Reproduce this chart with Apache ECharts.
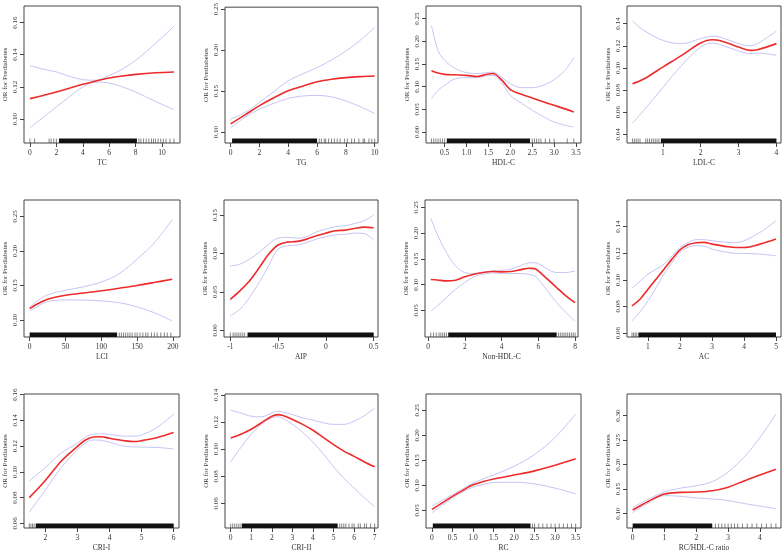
<!DOCTYPE html>
<html><head><meta charset="utf-8">
<script src="https://cdn.jsdelivr.net/npm/echarts@6/dist/echarts.min.js"></script>
<style>html,body{margin:0;padding:0;background:#fff}#c{width:784px;height:553px}</style>
</head><body><div id="c"></div>
<script>
// ---------- DATA ----------
const titles = ['TC','TG','HDL-C','LDL-C','LCI','AIP','Non-HDL-C','AC','CRI-I','CRI-II','RC','RC/HDL-C ratio'];
const yTitle = 'OR for Prediabetes';

// TC
const tcX = [0,1,2,3,4,5,6,7,8,9.5,10.9];
const tcFit = [0.1127,0.1147,0.1168,0.1192,0.1216,0.1237,0.1255,0.1268,0.1278,0.1288,0.1293];
const tcUp = [0.1332,0.1310,0.1293,0.1265,0.1245,0.1241,0.1272,0.1310,0.1365,0.1470,0.1577];
const tcLo = [0.0946,0.1010,0.1075,0.1140,0.1199,0.1230,0.1224,0.1200,0.1168,0.1110,0.1058];
const tcXRange = [-0.45, 11.36], tcYRange = [0.0851, 0.1703];
const tcXTicks = ['0','2','4','6','8','10'], tcYTicks = ['0.10','0.12','0.14','0.16'];
const tcRugBlocks = [[2.2, 8.1]];
const tcRugTicks = [0,0.35,1.45,1.6,1.8,2.0,8.25,8.4,8.6,8.8,9.0,9.2,9.35,9.5,9.7,9.9,10.1,10.3,10.6,10.9];

// TG
const tgX = [0,1,2,3,4,5,6,7,8,9,10];
const tgFit = [0.110,0.121,0.1323,0.142,0.1504,0.156,0.1613,0.1645,0.1665,0.1677,0.1685];
const tgUp = [0.116,0.124,0.1363,0.1495,0.1625,0.171,0.1786,0.188,0.1988,0.212,0.2278];
const tgLo = [0.1052,0.118,0.128,0.135,0.1411,0.144,0.1448,0.143,0.138,0.131,0.1226];
const tgXRange = [-0.39, 10.23], tgYRange = [0.0867, 0.2524];
const tgXTicks = ['0','2','4','6','8','10'], tgYTicks = ['0.10','0.15','0.20','0.25'];
const tgRugBlocks = [[0.1, 6.0]];
const tgRugTicks = [6.15,6.3,6.5,6.6,6.8,7.0,7.2,7.4,7.6,7.9,8.1,8.4,8.6,8.9,9.2,9.3,9.6,9.8,10.0];

// HDL-C
const hdlX = [0.2,0.35,0.5,0.75,1.0,1.25,1.45,1.6,1.8,2.0,2.25,2.5,2.75,3.0,3.25,3.45];
const hdlFit = [0.1353,0.130,0.1272,0.1262,0.125,0.1225,0.127,0.129,0.115,0.0934,0.083,0.075,0.0665,0.0588,0.051,0.044];
const hdlUp = [0.235,0.18,0.158,0.1397,0.131,0.129,0.131,0.132,0.121,0.1066,0.0978,0.0978,0.103,0.1154,0.136,0.164];
const hdlLo = [0.0735,0.092,0.103,0.1176,0.12,0.12,0.124,0.125,0.109,0.081,0.064,0.048,0.034,0.022,0.015,0.011];
const hdlXRange = [0.075, 3.614], hdlYRange = [-0.0243, 0.278];
const hdlXTicks = ['0.5','1.0','1.5','2.0','2.5','3.0','3.5'], hdlYTicks = ['0.00','0.05','0.10','0.15','0.20','0.25'];
const hdlRugBlocks = [[0.55, 2.45]];
const hdlRugTicks = [0.2,0.25,0.3,0.35,0.4,0.45,0.5,2.5,2.55,2.6,2.65,2.7,2.8,2.9,3.0,3.3,3.45];

// LDL-C
const ldlX = [0.2,0.5,1,1.5,2,2.3,2.5,3,3.3,3.5,4];
const ldlFit = [0.0858,0.09,0.1008,0.1114,0.1225,0.1255,0.1249,0.1189,0.1159,0.1165,0.122];
const ldlUp = [0.1424,0.134,0.125,0.122,0.1265,0.1286,0.128,0.122,0.120,0.122,0.1334];
const ldlLo = [0.0502,0.0617,0.0822,0.1024,0.119,0.1225,0.1213,0.1153,0.113,0.1135,0.1114];
const ldlXRange = [0.056, 4.12], ldlYRange = [0.0322, 0.156];
const ldlXTicks = ['1','2','3','4'], ldlYTicks = ['0.04','0.06','0.08','0.10','0.12','0.14'];
const ldlRugBlocks = [[0.95, 4.0]];
const ldlRugTicks = [0.2,0.25,0.3,0.35,0.4,0.55,0.6,0.65,0.7,0.75,0.8,0.85,0.9];

// LCI
const lciX = [0,10,25,50,75,100,125,150,175,199];
const lciFit = [0.1164,0.1227,0.13,0.1358,0.139,0.1422,0.146,0.150,0.1545,0.159];
const lciUp = [0.1189,0.127,0.1363,0.143,0.148,0.155,0.167,0.188,0.213,0.245];
const lciLo = [0.113,0.119,0.1266,0.129,0.1288,0.1276,0.125,0.1189,0.110,0.0985];
const lciXRange = [-7.9, 209.8], lciYRange = [0.0753, 0.2737];
const lciXTicks = ['0','50','100','150','200'], lciYTicks = ['0.10','0.15','0.20','0.25'];
const lciRugBlocks = [[0, 122]];
const lciRugTicks = [125,128,131,134,137,140,143,147,150,154,158,162,165,170,174,178,183,188,192,197];

// AIP
const aipX = [-1,-0.9,-0.8,-0.7,-0.6,-0.5,-0.4,-0.3,-0.2,-0.1,0,0.1,0.2,0.3,0.4,0.5];
const aipFit = [0.0404,0.0513,0.0643,0.081,0.099,0.111,0.1148,0.1157,0.1187,0.123,0.1265,0.1296,0.1304,0.1326,0.1343,0.1335];
const aipUp = [0.0839,0.086,0.0926,0.1013,0.112,0.12,0.1209,0.12,0.1217,0.128,0.1317,0.135,0.136,0.139,0.1426,0.150];
const aipLo = [0.0187,0.0274,0.0426,0.062,0.0839,0.1057,0.11,0.1109,0.1143,0.1187,0.1217,0.1243,0.125,0.1265,0.126,0.1174];
const aipXRange = [-1.066, 0.545], aipYRange = [-0.0087, 0.1696];
const aipXTicks = ['-1','-0.5','0','0.5'], aipYTicks = ['0.00','0.05','0.10','0.15'];
const aipRugBlocks = [[-0.82, 0.5]];
const aipRugTicks = [-1,-0.97,-0.95,-0.93,-0.91,-0.89,-0.87,-0.85];

// Non-HDL-C
const nonX = [0.15,0.5,1,1.5,2,2.5,3,3.5,4,4.5,5,5.5,5.8,6,6.5,7,7.5,8];
const nonFit = [0.1097,0.109,0.1071,0.1084,0.115,0.120,0.1234,0.1253,0.1247,0.1253,0.1286,0.1318,0.131,0.1266,0.1104,0.0942,0.078,0.065];
const nonUp = [0.2286,0.198,0.1623,0.1364,0.1234,0.1214,0.1234,0.1266,0.1279,0.130,0.1364,0.1422,0.1425,0.141,0.130,0.1234,0.1234,0.1266];
const nonLo = [0.0487,0.0584,0.0747,0.091,0.1039,0.115,0.120,0.1227,0.1214,0.1214,0.1214,0.120,0.117,0.1104,0.0877,0.065,0.0455,0.0292];
const nonXRange = [-0.164, 8.16], nonYRange = [-0.0019, 0.2643];
const nonXTicks = ['0','2','4','6','8'], nonYTicks = ['0.05','0.10','0.15','0.20','0.25'];
const nonRugBlocks = [[1.1, 7.0]];
const nonRugTicks = [0.15,0.3,0.45,0.6,0.7,0.8,0.9,1.0,7.1,7.2,7.3,7.4,7.5,7.6,7.7,7.8,7.9,8.0];

// AC
const acX = [0.5,0.75,1,1.25,1.5,1.75,2,2.25,2.5,2.75,3,3.5,3.75,4,4.5,5];
const acFit = [0.0804,0.0854,0.093,0.1005,0.108,0.1156,0.1226,0.1264,0.1279,0.1282,0.1269,0.1249,0.1244,0.1244,0.1269,0.1307];
const acUp = [0.0937,0.099,0.1043,0.108,0.1118,0.118,0.1244,0.128,0.1302,0.1303,0.1294,0.1282,0.128,0.1294,0.1357,0.1445];
const acLo = [0.0691,0.076,0.0842,0.094,0.1043,0.113,0.1206,0.1245,0.1257,0.1255,0.1231,0.1206,0.120,0.1199,0.1194,0.1181];
const acXRange = [0.344, 5.156], acYRange = [0.057, 0.1601];
const acXTicks = ['1','2','3','4','5'], acYTicks = ['0.06','0.08','0.10','0.12','0.14'];
const acRugBlocks = [[0.7, 5.0]];
const acRugTicks = [0.5,0.55,0.6,0.65];

// CRI-I
const cri1X = [1.5,2,2.5,3,3.25,3.5,3.75,4,4.5,4.75,5,5.5,6];
const cri1Fit = [0.0801,0.0934,0.1085,0.1198,0.1248,0.1271,0.1273,0.1261,0.1241,0.1236,0.1243,0.1268,0.1306];
const cri1Up = [0.0929,0.1035,0.1148,0.1223,0.127,0.1293,0.1296,0.1291,0.1278,0.1278,0.1286,0.1349,0.1449];
const cri1Lo = [0.0688,0.0859,0.1035,0.1173,0.1225,0.1248,0.1245,0.1231,0.1198,0.1195,0.1193,0.119,0.1178];
const cri1XRange = [1.335, 6.166], cri1YRange = [0.0565, 0.1605];
const cri1XTicks = ['2','3','4','5','6'], cri1YTicks = ['0.06','0.08','0.10','0.12','0.14','0.16'];
const cri1RugBlocks = [[1.7, 6.0]];
const cri1RugTicks = [1.5,1.55,1.6,1.65];

// CRI-II
const cri2X = [0,0.5,1,1.5,2,2.3,2.5,3,3.5,4,4.5,5,5.5,6,6.5,7];
const cri2Fit = [0.1082,0.1111,0.1147,0.1195,0.1243,0.1255,0.1251,0.1219,0.1183,0.114,0.1087,0.1034,0.0986,0.0947,0.0906,0.087];
const cri2Up = [0.1287,0.1267,0.1243,0.1239,0.1267,0.128,0.1275,0.1255,0.1231,0.1214,0.1195,0.1183,0.1183,0.1207,0.1248,0.1304];
const cri2Lo = [0.0906,0.1014,0.1111,0.1183,0.1231,0.1239,0.1231,0.1183,0.1123,0.1051,0.0966,0.087,0.0786,0.0713,0.0641,0.0576];
const cri2XRange = [-0.275, 7.16], cri2YRange = [0.0419, 0.1407];
const cri2XTicks = ['0','1','2','3','4','5','6','7'], cri2YTicks = ['0.06','0.08','0.10','0.12','0.14'];
const cri2RugBlocks = [[0.55, 5.2]];
const cri2RugTicks = [0,0.1,0.2,0.3,0.4,0.5,5.3,5.4,5.5,5.6,5.75,5.9,6.0,6.2,6.3,6.5,6.6,6.8,7.0];

// RC
const rcX = [0,0.25,0.5,0.75,1,1.25,1.5,2,2.5,3,3.5];
const rcFit = [0.052,0.065,0.078,0.09,0.101,0.1075,0.1127,0.1206,0.129,0.140,0.153];
const rcUp = [0.0585,0.070,0.0814,0.093,0.1042,0.113,0.1206,0.1382,0.1618,0.1958,0.2428];
const rcLo = [0.0454,0.060,0.0748,0.087,0.0964,0.102,0.1056,0.1062,0.1029,0.0944,0.0833];
const rcXRange = [-0.146, 3.63], rcYRange = [0.0147, 0.2827];
const rcXTicks = ['0','0.5','1.0','1.5','2.0','2.5','3.0','3.5'], rcYTicks = ['0.05','0.10','0.15','0.20','0.25'];
const rcRugBlocks = [[0.02, 2.4]];
const rcRugTicks = [2.45,2.5,2.6,2.7,2.8,2.9,3.0,3.1,3.2,3.3,3.4,3.5];

// RC/HDL-C ratio
const ratX = [0,0.5,1,1.5,2,2.5,3,3.5,4,4.5];
const ratFit = [0.1073,0.1253,0.14,0.1433,0.144,0.1467,0.154,0.1667,0.1787,0.1907];
const ratUp = [0.112,0.13,0.144,0.152,0.1567,0.1653,0.1853,0.2153,0.2553,0.3033];
const ratLo = [0.102,0.122,0.1367,0.1353,0.132,0.13,0.1267,0.1207,0.1153,0.11];
const ratXRange = [-0.178, 4.66], ratYRange = [0.0707, 0.344];
const ratXTicks = ['0','1','2','3','4'], ratYTicks = ['0.10','0.15','0.20','0.25','0.30'];
const ratRugBlocks = [[0, 2.5]];
const ratRugTicks = [2.6,2.7,2.8,2.9,3.0,3.1,3.2,3.3,3.45,3.6,3.75,3.9,4.05,4.2,4.35,4.5];

// ---------- ASSEMBLY ----------
const panels = [
  [tcX,tcFit,tcUp,tcLo,tcXRange,tcYRange,tcXTicks,tcYTicks,tcRugBlocks,tcRugTicks],
  [tgX,tgFit,tgUp,tgLo,tgXRange,tgYRange,tgXTicks,tgYTicks,tgRugBlocks,tgRugTicks],
  [hdlX,hdlFit,hdlUp,hdlLo,hdlXRange,hdlYRange,hdlXTicks,hdlYTicks,hdlRugBlocks,hdlRugTicks],
  [ldlX,ldlFit,ldlUp,ldlLo,ldlXRange,ldlYRange,ldlXTicks,ldlYTicks,ldlRugBlocks,ldlRugTicks],
  [lciX,lciFit,lciUp,lciLo,lciXRange,lciYRange,lciXTicks,lciYTicks,lciRugBlocks,lciRugTicks],
  [aipX,aipFit,aipUp,aipLo,aipXRange,aipYRange,aipXTicks,aipYTicks,aipRugBlocks,aipRugTicks],
  [nonX,nonFit,nonUp,nonLo,nonXRange,nonYRange,nonXTicks,nonYTicks,nonRugBlocks,nonRugTicks],
  [acX,acFit,acUp,acLo,acXRange,acYRange,acXTicks,acYTicks,acRugBlocks,acRugTicks],
  [cri1X,cri1Fit,cri1Up,cri1Lo,cri1XRange,cri1YRange,cri1XTicks,cri1YTicks,cri1RugBlocks,cri1RugTicks],
  [cri2X,cri2Fit,cri2Up,cri2Lo,cri2XRange,cri2YRange,cri2XTicks,cri2YTicks,cri2RugBlocks,cri2RugTicks],
  [rcX,rcFit,rcUp,rcLo,rcXRange,rcYRange,rcXTicks,rcYTicks,rcRugBlocks,rcRugTicks],
  [ratX,ratFit,ratUp,ratLo,ratXRange,ratYRange,ratXTicks,ratYTicks,ratRugBlocks,ratRugTicks]
];

// layout (pixels)
const boxes = [
  [24,6,156,137],[225,6,153,137],[426,6,155,137],[627,6,154,137],
  [24,200,156,137],[224,200,154,137],[425,200,153,137],[627,200,154,137],
  [24,394,155,137],[225,394,153,137],[426,394,155,137],[627,394,154,137]
];

const FONT = 'Liberation Serif';
const TXT = '#333';
const grids = [], xAxes = [], yAxes = [], series = [];

function fmt(labels){
  return function(v){
    for (const s of labels) if (Math.abs(Number(s) - v) < 1e-9) return s;
    return '';
  };
}

panels.forEach((p, i) => {
  const [xs, fit, up, lo, xr, yr, xt, yt, rugB, rugT] = p;
  const b = boxes[i];
  grids.push({left:b[0], top:b[1], width:b[2], height:b[3], show:true, borderColor:'#444', borderWidth:1, backgroundColor:'transparent'});
  xAxes.push({
    type:'value', gridIndex:i, min:xr[0], max:xr[1], splitLine:{show:false}, position:'bottom',
    axisLine:{show:false, onZero:false},
    axisTick:{show:true, length:4, lineStyle:{color:'#444'}, customValues:xt.map(Number)},
    axisLabel:{customValues:xt.map(Number), formatter:fmt(xt), fontFamily:FONT, fontSize:7.5, color:TXT, margin:6},
    name:titles[i], nameLocation:'middle', nameGap:16,
    nameTextStyle:{fontFamily:FONT, fontSize:7.5, color:TXT}
  });
  yAxes.push({
    type:'value', gridIndex:i, min:yr[0], max:yr[1], splitLine:{show:false}, position:'left',
    axisLine:{show:false, onZero:false},
    axisTick:{show:true, length:4, lineStyle:{color:'#444'}, customValues:yt.map(Number)},
    axisLabel:{customValues:yt.map(Number), formatter:fmt(yt), fontFamily:FONT, fontSize:7, color:TXT, rotate:90, margin:5},
    name:yTitle, nameLocation:'middle', nameGap:15,
    nameTextStyle:{fontFamily:FONT, fontSize:7, color:TXT}
  });
  const mk = (arr) => xs.map((x, k) => [x, arr[k]]);
  const base = {type:'line', xAxisIndex:i, yAxisIndex:i, showSymbol:false, symbol:'none', smooth:0.35, silent:true, z:3};
  series.push(Object.assign({}, base, {data:mk(up), lineStyle:{color:'#c6c6f4', width:1}}));
  series.push(Object.assign({}, base, {data:mk(lo), lineStyle:{color:'#c6c6f4', width:1}}));
  series.push(Object.assign({}, base, {data:mk(fit), lineStyle:{color:'#ee2b2b', width:1.6}, z:4}));
  const y0 = yr[0];
  series.push({
    type:'custom', xAxisIndex:i, yAxisIndex:i, silent:true, z:2,
    data: rugB.map(r => [r[0], r[1]]),
    encode:{x:[0,1]},
    renderItem:(params, api) => {
      const p0 = api.coord([api.value(0), y0]);
      const p1 = api.coord([api.value(1), y0]);
      return {type:'rect', shape:{x:p0[0], y:p0[1]-4.5, width:Math.max(p1[0]-p0[0],1), height:4.5}, style:{fill:'#111'}};
    }
  });
  series.push({
    type:'custom', xAxisIndex:i, yAxisIndex:i, silent:true, z:2,
    data: rugT.map(v => [v]),
    encode:{x:[0]},
    renderItem:(params, api) => {
      const p0 = api.coord([api.value(0), y0]);
      return {type:'line', shape:{x1:p0[0], y1:p0[1]-4.5, x2:p0[0], y2:p0[1]}, style:{stroke:'#333', lineWidth:0.6}};
    }
  });
});

const chart = echarts.init(document.getElementById('c'), null, {renderer:'canvas'});
chart.setOption({
  animation:false,
  backgroundColor:'#fff',
  grid:grids, xAxis:xAxes, yAxis:yAxes, series:series
});
</script></body></html>
